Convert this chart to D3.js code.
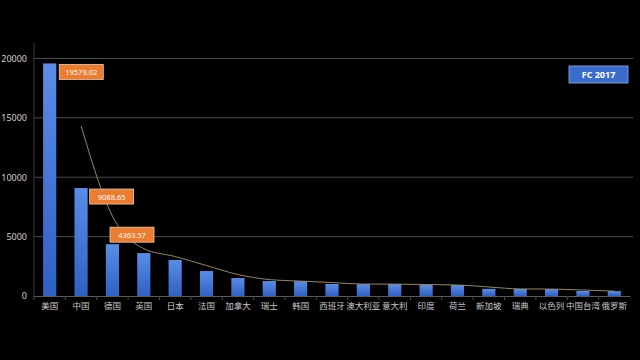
<!DOCTYPE html>
<html>
<head>
  <meta charset="utf-8">
  <script src="https://d3js.org/d3.v7.min.js"></script>
</head>
<body style="margin:0px; overflow:hidden; background:#000;">
  <svg id="chart" width="640" height="360"></svg>
  <script>
    // Data
    const countries = ["美国", "中国", "德国", "英国", "日本", "法国", "加拿大", "瑞士", "韩国", "西班牙",
      "澳大利亚", "意大利", "印度", "荷兰", "新加坡", "瑞典", "以色列", "中国台湾", "俄罗斯"];
    const values = [19579.02, 9088.65, 4363.57, 3610, 3030, 2100, 1510, 1260, 1250, 1010,
      1000, 1000, 930, 920, 600, 590, 580, 420, 410];
    const yTicks = [0, 5000, 10000, 15000, 20000];
    const labelled = [0, 1, 2];   // bars with an orange value box
    const seriesName = "FC 2017";

    // Dimensions
    const plotLeft = 34, plotRight = 630, plotTop = 43, plotBottom = 296;

    const svg = d3.select("#chart");

    const defs = svg.append("defs");
    const grad = defs.append("linearGradient")
      .attr("id", "barGrad").attr("x1", 0).attr("y1", 0).attr("x2", 0).attr("y2", 1);
    grad.append("stop").attr("offset", "0%").attr("stop-color", "#5b8de6");
    grad.append("stop").attr("offset", "100%").attr("stop-color", "#2f60c4");

    const x = d3.scaleBand()
      .domain(countries)
      .range([plotLeft, plotRight])
      .paddingInner(0.58)
      .paddingOuter(0.29);

    const y = d3.scaleLinear()
      .domain([0, 21300])
      .range([plotBottom, plotTop]);

    // Grid lines
    svg.append("g")
      .selectAll("line")
      .data(yTicks.slice(1))
      .enter().append("line")
      .attr("x1", plotLeft).attr("x2", plotRight + 3)
      .attr("y1", d => y(d)).attr("y2", d => y(d))
      .attr("stroke", "#4d4d4d").attr("stroke-width", 1);

    // Y axis
    const yAxis = svg.append("g")
      .attr("transform", "translate(" + plotLeft + ",0)")
      .call(d3.axisLeft(y).tickValues(yTicks).tickFormat(d3.format("d")).tickSize(0).tickPadding(7));
    yAxis.select(".domain").attr("stroke", "#3a3a3a").attr("d", "M0," + plotTop + "V" + plotBottom);
    yAxis.selectAll("text")
      .attr("fill", "#d0d0d0")
      .style("font-family", "'Noto Sans', sans-serif")
      .style("font-size", "9px");

    // X axis
    const xAxis = svg.append("g")
      .attr("transform", "translate(0," + plotBottom + ")")
      .call(d3.axisBottom(x).tickSize(0).tickPadding(7));
    xAxis.select(".domain").attr("stroke", "#5a5a5a");
    xAxis.selectAll("text")
      .attr("fill", "#c8c8c8")
      .style("font-family", "'Noto Sans CJK SC', sans-serif")
      .style("font-size", "8.5px");
    // small separators between categories
    svg.append("g")
      .selectAll("line")
      .data(countries)
      .enter().append("line")
      .attr("x1", d => x(d) - x.step() * x.paddingInner() / 2)
      .attr("x2", d => x(d) - x.step() * x.paddingInner() / 2)
      .attr("y1", plotBottom).attr("y2", plotBottom + 4)
      .attr("stroke", "#4a4a4a");

    // Bars
    svg.append("g")
      .selectAll("rect")
      .data(values)
      .enter().append("rect")
      .attr("x", (d, i) => x(countries[i]))
      .attr("y", d => y(d))
      .attr("width", x.bandwidth())
      .attr("height", d => plotBottom - y(d))
      .attr("fill", "url(#barGrad)");

    // 2-period moving average trendline
    const trend = values.slice(1).map((v, i) => [countries[i + 1], (v + values[i]) / 2]);
    const line = d3.line()
      .x(d => x(d[0]) + x.bandwidth() / 2)
      .y(d => y(d[1]))
      .curve(d3.curveMonotoneX);
    svg.append("path")
      .datum(trend)
      .attr("d", line)
      .attr("fill", "none")
      .attr("stroke", "#a8956a")
      .attr("stroke-width", 0.9);

    // Value boxes
    const boxOffset = [[3, 1], [2, 1], [-9, -17]];
    const boxes = svg.append("g")
      .selectAll("g")
      .data(labelled)
      .enter().append("g")
      .attr("transform", (d, k) => "translate(" + (x(countries[d]) + x.bandwidth() + boxOffset[k][0]) + "," + (y(values[d]) + boxOffset[k][1]) + ")");
    boxes.append("rect")
      .attr("width", 44).attr("height", 15)
      .attr("fill", "#ec7c30")
      .attr("stroke", "#f4c9a8").attr("stroke-width", 0.8);
    boxes.append("text")
      .attr("x", 22).attr("y", 10.5)
      .attr("text-anchor", "middle")
      .attr("fill", "#ffffff")
      .style("font-family", "'Noto Sans', sans-serif")
      .style("font-size", "7.5px")
      .text(d => values[d].toFixed(2));

    // Series badge
    const badge = svg.append("g").attr("transform", "translate(569,66)");
    badge.append("rect")
      .attr("width", 59).attr("height", 17)
      .attr("fill", "#3a6ccc")
      .attr("stroke", "#8fb0e8").attr("stroke-width", 0.8);
    badge.append("text")
      .attr("x", 29.5).attr("y", 12)
      .attr("text-anchor", "middle")
      .attr("fill", "#ffffff")
      .style("font-family", "'Open Sans', sans-serif")
      .style("font-weight", "bold")
      .style("font-size", "9px")
      .text(seriesName);
  </script>
</body>
</html>
